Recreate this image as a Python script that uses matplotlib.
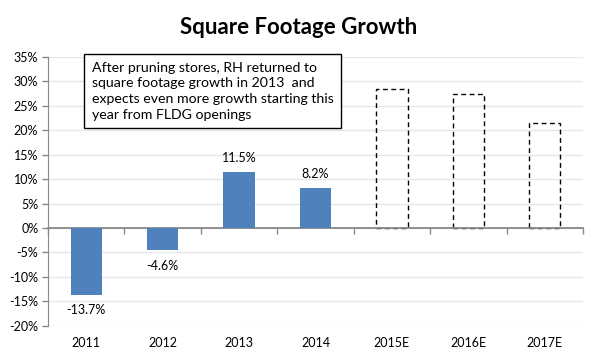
import numpy as np
import matplotlib
matplotlib.use('Agg')
import matplotlib.pyplot as plt

plt.rcParams['font.family'] = ['Lato', 'DejaVu Sans']

# ---------------------------------------------------------------------------
# DATA
# ---------------------------------------------------------------------------
years = ['2011', '2012', '2013', '2014', '2015E', '2016E', '2017E']
actual = [-13.7, -4.6, 11.5, 8.2]          # reported growth, %
estimate = [28.4, 27.4, 21.4]              # outline bars for estimates, %
note = ('After pruning stores, RH returned to\n'
        'square footage growth in 2013  and\n'
        'expects even more growth starting this\n'
        'year from FLDG openings')

# ---------------------------------------------------------------------------
# PLOT
# ---------------------------------------------------------------------------
fig = plt.figure(figsize=(5.97, 3.59), dpi=100)
ax = fig.add_axes([48/597, 1-325.7/359, (583-48)/597, (325.7-57)/359])

x = np.arange(len(years))
xa = x[:len(actual)]
xe = x[len(actual):]

ax.bar(xa, actual, width=0.41, color='#4F81BD', zorder=5)
ax.bar(xe, estimate, width=0.41, facecolor='none', edgecolor='black',
       linewidth=1, linestyle=(0, (3.5, 2.5)), zorder=3)

for xi, v in zip(xa, actual):
    off = 10 if v > 0 else -11
    ax.annotate('%.1f%%' % v, (xi, v), xytext=(0, off), textcoords='offset points',
                ha='center', va='center', fontsize=9)

ax.set_xlim(-0.5, len(years) - 0.5)
ax.set_ylim(-20, 35)
ax.set_yticks(np.arange(-20, 36, 5))
ax.set_yticklabels(['%d%%' % t for t in np.arange(-20, 36, 5)], fontsize=9)
ax.yaxis.grid(True, color='#e6e6e6', linewidth=1, zorder=0)
ax.set_axisbelow(True)

ax.set_xticks(x)
ax.set_xticklabels(years, fontsize=9)
ax.tick_params(axis='x', length=0, pad=8)
ax.tick_params(axis='y', length=4, color='#888888', width=1, pad=3)

for s in ['top', 'right', 'bottom']:
    ax.spines[s].set_visible(False)
ax.spines['left'].set_color('#888888')

# category axis sits on the zero line
sec = ax.secondary_xaxis(20/55)
sec.set_zorder(4)
sec.set_xticks(np.arange(len(years) + 1) - 0.5)
sec.set_xticklabels([])
sec.tick_params(length=4, color='#888888', width=1, direction='out')
sec.spines['bottom'].set_color('#888888')
sec.spines['bottom'].set_linewidth(1.3)

ax.text(0.082, 0.982, note, transform=ax.transAxes, ha='left', va='top',
        fontsize=10.2, linespacing=1.36,
        bbox=dict(boxstyle='square,pad=0.55', facecolor='white',
                  edgecolor='black', linewidth=1), zorder=6)

fig.text(0.5, 1-27/359, 'Square Footage Growth', ha='center', va='center',
         fontsize=16, fontweight='bold')

plt.savefig('out.png', dpi=100)
